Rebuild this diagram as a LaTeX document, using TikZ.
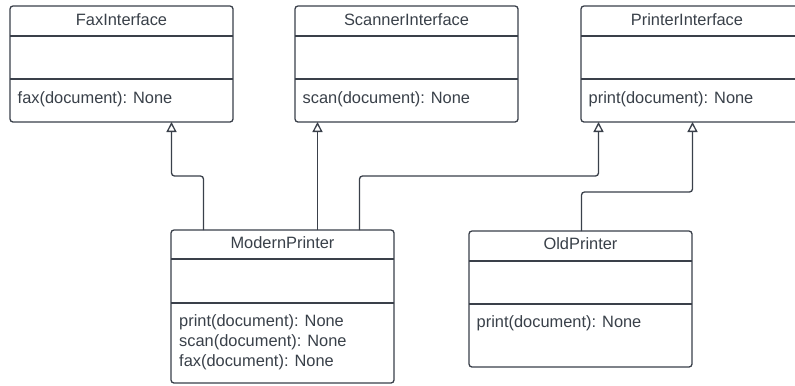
\documentclass[tikz,border=0pt]{standalone}
\usepackage{fontspec}
\setmainfont{Liberation Sans}
\usetikzlibrary{arrows.meta}
\definecolor{ink}{HTML}{3A404A}
\definecolor{txt}{HTML}{394049}
\tikzset{
  x=1bp, y=-1bp,
  classbox/.style={draw=ink, line width=1.3bp, rounded corners=3bp, fill=white,
    anchor=north west, minimum width=223bp, inner sep=0pt, outer sep=0pt},
  rule/.style={draw=ink, line width=1.3bp},
  title/.style={text=txt, font=\fontsize{16.4bp}{20bp}\selectfont, inner sep=0pt},
  member/.style={text=txt, font=\fontsize{16.4bp}{20bp}\selectfont, inner sep=0pt,
    anchor=west, align=left},
  realize/.style={draw=ink, line width=1.3bp, rounded corners=3bp,
    -{Triangle[open, fill=white, length=10bp, width=10bp, line width=1.3bp]}}
}
\begin{document}
\begin{tikzpicture}
\useasboundingbox (0,0) rectangle (795,385);
\clip (0,0) rectangle (795,385);
\fill[white] (0,0) rectangle (795,385);

% interfaces
\node[classbox, minimum height=116bp] (fax) at (10,6) {};
\draw[rule] (10,36) -- (233,36) (10,79) -- (233,79);
\node[title] (faxT) at (121.5,20) {FaxInterface};
\node[member] (faxM) at (17.5,99) {fax(document): None};

\node[classbox, minimum height=116bp] (scan) at (295,6) {};
\draw[rule] (295,36) -- (518,36) (295,79) -- (518,79);
\node[title] (scanT) at (406.5,20) {ScannerInterface};
\node[member] (scanM) at (302.5,99) {scan(document): None};

\node[classbox, minimum height=116bp] (print) at (581,6) {};
\draw[rule] (581,36) -- (804,36) (581,79) -- (804,79);
\node[title] (printT) at (687,20) {PrinterInterface};
\node[member] (printM) at (588.5,99) {print(document): None};

% implementations
\node[classbox, minimum height=153bp] (modern) at (171,230) {};
\draw[rule] (171,259) -- (394,259) (171,303) -- (394,303);
\node[title] (modernT) at (282.5,243) {ModernPrinter};
\node[member] (modernM) at (179,342) {print(document): None\\scan(document): None\\fax(document): None};

\node[classbox, minimum height=136bp] (old) at (469,231) {};
\draw[rule] (469,261) -- (692,261) (469,304) -- (692,304);
\node[title] (oldT) at (580.5,244) {OldPrinter};
\node[member] (oldM) at (476.5,323) {print(document): None};

% connector ends on the interface boxes
\coordinate (faxIn) at (171.5,122);
\coordinate (scanIn) at (317.5,122);
\coordinate (printInA) at (598.5,122);
\coordinate (printInB) at (692.5,122);
% connector starts on the implementing classes
\coordinate (modernA) at (203.5,230);
\coordinate (modernB) at (317.5,230);
\coordinate (modernC) at (359.5,230);
\coordinate (oldA) at (581.5,231);

% realization connectors
\draw[realize] (modernA) |- (171.5,176) -- (faxIn);
\draw[realize] (modernB) -- (scanIn);
\draw[realize] (modernC) |- (598.5,176) -- (printInA);
\draw[realize] (oldA) |- (692.5,192) -- (printInB);
\end{tikzpicture}
\end{document}
